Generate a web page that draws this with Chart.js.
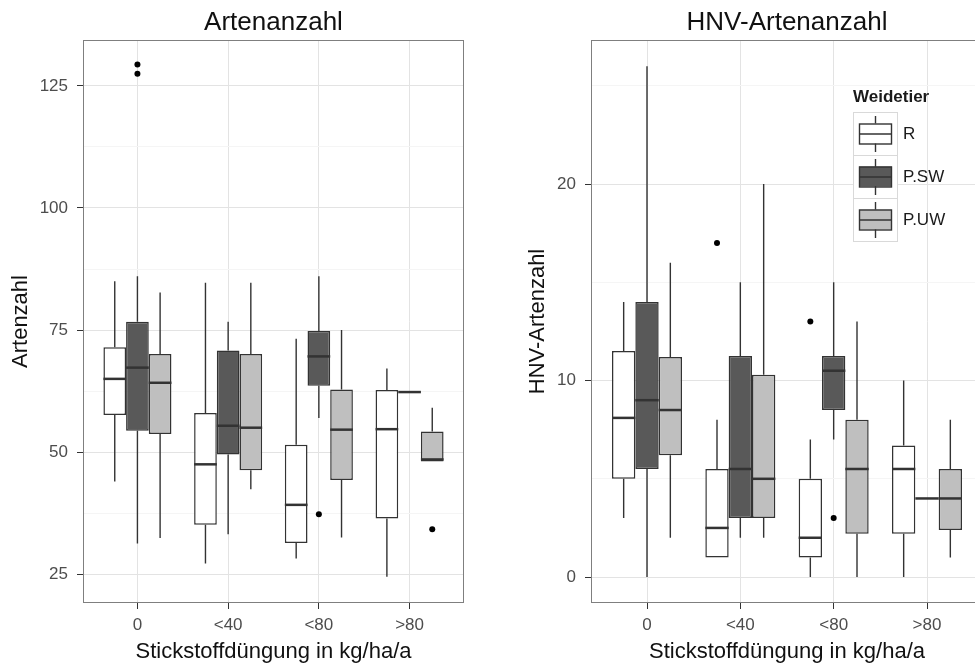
<!DOCTYPE html>
<html>
<head>
<meta charset="utf-8">
<script src="https://cdn.jsdelivr.net/npm/chart.js@4"></script>
<style>
  html, body { margin: 0; padding: 0; background: #fff; overflow: hidden; }
  #wrap { position: relative; width: 975px; height: 664px; overflow: hidden; }
  canvas { position: absolute; top: 0; }
  #artenChart { left: 0; }
  #hnvChart { left: 490px; }
</style>
</head>
<body>
<div id="wrap">
  <canvas id="artenChart" width="490" height="664"></canvas>
  <canvas id="hnvChart" width="500" height="664"></canvas>
</div>
<script>
const categories = ["0", "<40", "<80", ">80"];
const groups = ["R", "P.SW", "P.UW"];
const groupColors = ["#ffffff", "#595959", "#bfbfbf"];

// je Kategorie: [unterer Whisker, Q1, Median, Q3, oberer Whisker]
const artenR = [[44, 57.6, 65, 71.5, 85], [27.2, 35.1, 47.5, 58, 84.7], [28.2, 31.4, 39.2, 51.5, 73.2], [24.5, 36.4, 54.7, 62.7, 67.1]];
const artenPSW = [[31.3, 54.4, 67.3, 76.7, 86], [33.2, 49.5, 55.4, 70.8, 76.7], [57, 63.6, 69.6, 74.8, 86], [62.3, 62.3, 62.3, 62.3, 62.3]];
const artenPUW = [[32.4, 53.7, 64.2, 70.1, 82.7], [42.4, 46.3, 55, 70.1, 84.7], [32.5, 44.3, 54.6, 62.8, 75], [48.1, 48.1, 48.5, 54.2, 59.1]];
// Ausreisser: [Kategorie-Index, Wert]
const artenOutR = [];
const artenOutPSW = [[0, 129.4], [0, 127.5], [2, 37.3]];
const artenOutPUW = [[3, 34.2]];
const artenTicks = [25, 50, 75, 100, 125];
const artenMinorTicks = [37.5, 62.5, 87.5, 112.5];
const artenRange = [19.1, 134.4];

const hnvR = [[3, 5, 8.1, 11.5, 14], [1, 1, 2.5, 5.5, 8], [0, 1, 2, 5, 7], [0, 2.2, 5.5, 6.7, 10]];
const hnvPSW = [[0, 5.5, 9, 14, 26], [2, 3, 5.5, 11.25, 15], [7, 8.5, 10.5, 11.25, 15], [4, 4, 4, 4, 4]];
const hnvPUW = [[2, 6.2, 8.5, 11.2, 16], [2, 3, 5, 10.3, 20], [0, 2.2, 5.5, 8, 13], [1, 2.4, 4, 5.5, 8]];
const hnvOutR = [[1, 17], [2, 13]];
const hnvOutPSW = [[2, 3]];
const hnvOutPUW = [];
const hnvTicks = [0, 10, 20];
const hnvMinorTicks = [5, 15, 25];
const hnvRange = [-1.32, 27.33];

const fontFamily = "'Liberation Sans', Arial, sans-serif";
Chart.defaults.font.family = fontFamily;

// Whisker, Median, Ausreisser und Rahmen im Stil von ggplot
const boxParts = {
  id: "boxParts",
  beforeDatasetsDraw(chart) {
    const { ctx, scales: { y } } = chart;
    ctx.save();
    ctx.strokeStyle = "#333333";
    ctx.lineWidth = 1.4;
    chart.data.datasets.forEach((ds, di) => {
      chart.getDatasetMeta(di).data.forEach((bar, i) => {
        const s = ds.stats[i];
        const x = bar.x;
        ctx.beginPath();
        ctx.moveTo(x, y.getPixelForValue(s[0]));
        ctx.lineTo(x, y.getPixelForValue(s[1]));
        ctx.moveTo(x, y.getPixelForValue(s[3]));
        ctx.lineTo(x, y.getPixelForValue(s[4]));
        ctx.stroke();
      });
    });
    ctx.restore();
  },
  afterDatasetsDraw(chart) {
    const { ctx, chartArea, scales: { y } } = chart;
    ctx.save();
    chart.data.datasets.forEach((ds, di) => {
      const bars = chart.getDatasetMeta(di).data;
      ctx.strokeStyle = "#333333";
      ctx.lineWidth = 2.5;
      bars.forEach((bar, i) => {
        const yy = y.getPixelForValue(ds.stats[i][2]);
        ctx.beginPath();
        ctx.moveTo(bar.x - bar.width / 2, yy);
        ctx.lineTo(bar.x + bar.width / 2, yy);
        ctx.stroke();
      });
      ctx.fillStyle = "#000000";
      ds.outliers.forEach(([ci, v]) => {
        ctx.beginPath();
        ctx.arc(bars[ci].x, y.getPixelForValue(v), 3, 0, Math.PI * 2);
        ctx.fill();
      });
    });
    ctx.strokeStyle = "#7f7f7f";
    ctx.lineWidth = 1;
    ctx.strokeRect(chartArea.left + 0.5, chartArea.top + 0.5, chartArea.width - 1, chartArea.height - 1);
    ctx.restore();
  }
};

// Legende "Weidetier" innerhalb der Zeichenflaeche
const weidetierLegend = {
  id: "weidetierLegend",
  afterDraw(chart, args, opts) {
    if (!opts.show) return;
    const { ctx } = chart;
    const { x, y, w, h } = opts;
    ctx.save();
    ctx.font = "bold 17px " + fontFamily;
    ctx.fillStyle = "#1a1a1a";
    ctx.textBaseline = "middle";
    ctx.textAlign = "left";
    ctx.fillText(opts.title, x, y - 15);
    chart.data.datasets.forEach((ds, i) => {
      const top = y + i * h;
      const cx = Math.round(x + w / 2) + 0.5;
      const cy = top + h / 2;
      ctx.fillStyle = "#ffffff";
      ctx.fillRect(x, top, w, h);
      ctx.strokeStyle = "#d9d9d9";
      ctx.lineWidth = 1;
      ctx.strokeRect(x + 0.5, top + 0.5, w, h);
      ctx.strokeStyle = "#333333";
      ctx.lineWidth = 1.4;
      ctx.beginPath();
      ctx.moveTo(cx, top + 4);
      ctx.lineTo(cx, top + h - 3);
      ctx.stroke();
      ctx.fillStyle = ds.backgroundColor;
      ctx.fillRect(x + 6, cy - 10, w - 11, 20);
      ctx.strokeRect(x + 6.5, cy - 10 + 0.5, w - 12, 20);
      ctx.beginPath();
      ctx.moveTo(x + 6, cy + 0.5);
      ctx.lineTo(x + w - 5, cy + 0.5);
      ctx.stroke();
      ctx.font = "17px " + fontFamily;
      ctx.fillStyle = "#1a1a1a";
      ctx.fillText(ds.label, x + w + 6, cy + 1);
    });
    ctx.restore();
  }
};

function boxDataset(label, stats, outliers, color) {
  return {
    label,
    data: stats.map((s, i) => ({ x: i, y: [s[1], s[3]] })),
    stats,
    outliers,
    backgroundColor: color,
    borderColor: "#333333",
    borderWidth: 1.5,
    borderSkipped: false,
    barPercentage: 1,
    categoryPercentage: 0.75
  };
}

function makeChart(canvas, cfg) {
  const yAllTicks = cfg.ticks.concat(cfg.minorTicks).sort((a, b) => a - b);
  return new Chart(canvas, {
    type: "bar",
    data: {
      datasets: [
        boxDataset(groups[0], cfg.stats[0], cfg.outliers[0], groupColors[0]),
        boxDataset(groups[1], cfg.stats[1], cfg.outliers[1], groupColors[1]),
        boxDataset(groups[2], cfg.stats[2], cfg.outliers[2], groupColors[2])
      ]
    },
    options: {
      responsive: false,
      animation: false,
      devicePixelRatio: 1,
      layout: { padding: { left: 0, right: cfg.padRight, top: 0, bottom: 0 } },
      plugins: {
        legend: { display: false },
        tooltip: { enabled: false },
        title: {
          display: true,
          text: cfg.title,
          fullSize: false,
          color: "#111111",
          font: { size: 26, weight: "normal", lineHeight: 1 },
          padding: { top: 10, bottom: 4 }
        },
        weidetierLegend: cfg.legend
      },
      scales: {
        x: {
          type: "linear",
          min: -0.6,
          max: 3.6,
          offset: false,
          afterBuildTicks: (scale) => { scale.ticks = categories.map((c, i) => ({ value: i })); },
          afterFit: (scale) => { scale.height = 61; },
          ticks: {
            color: "#4d4d4d",
            font: { size: 17 },
            padding: 6,
            maxRotation: 0,
            callback: (v) => categories[v]
          },
          grid: { offset: false, color: "#e3e3e3", tickColor: "#333333", tickLength: 6 },
          border: { display: false },
          title: {
            display: true,
            text: "Stickstoffdüngung in kg/ha/a",
            color: "#111111",
            font: { size: 22, lineHeight: 1 },
            padding: { top: 0, bottom: 1 }
          }
        },
        y: {
          min: cfg.range[0],
          max: cfg.range[1],
          afterBuildTicks: (scale) => { scale.ticks = yAllTicks.map((v) => ({ value: v })); },
          afterFit: (scale) => { scale.width = cfg.yWidth; },
          ticks: {
            color: "#4d4d4d",
            font: { size: 17 },
            padding: 9,
            callback: (v) => (cfg.ticks.includes(v) ? v : "")
          },
          grid: {
            color: (c) => (c.tick && cfg.ticks.includes(c.tick.value) ? "#e3e3e3" : "#f5f5f5"),
            tickColor: (c) => (c.tick && cfg.ticks.includes(c.tick.value) ? "#333333" : "rgba(0,0,0,0)"),
            tickLength: 6
          },
          border: { display: false },
          title: {
            display: true,
            text: cfg.yTitle,
            color: "#111111",
            font: { size: 22, lineHeight: 1 },
            padding: { top: cfg.yTitlePad, bottom: 0 }
          }
        }
      }
    },
    plugins: [boxParts, weidetierLegend]
  });
}

makeChart(document.getElementById("artenChart"), {
  title: "Artenanzahl",
  yTitle: "Artenzahl",
  stats: [artenR, artenPSW, artenPUW],
  outliers: [artenOutR, artenOutPSW, artenOutPUW],
  ticks: artenTicks,
  minorTicks: artenMinorTicks,
  range: artenRange,
  yWidth: 83,
  yTitlePad: 10,
  padRight: 26,
  legend: { show: false }
});

makeChart(document.getElementById("hnvChart"), {
  title: "HNV-Artenanzahl",
  yTitle: "HNV-Artenzahl",
  stats: [hnvR, hnvPSW, hnvPUW],
  outliers: [hnvOutR, hnvOutPSW, hnvOutPUW],
  ticks: hnvTicks,
  minorTicks: hnvMinorTicks,
  range: hnvRange,
  yWidth: 101,
  yTitlePad: 37,
  padRight: 7,
  legend: { show: true, title: "Weidetier", x: 363, y: 112, w: 44, h: 43 }
});
</script>
</body>
</html>
